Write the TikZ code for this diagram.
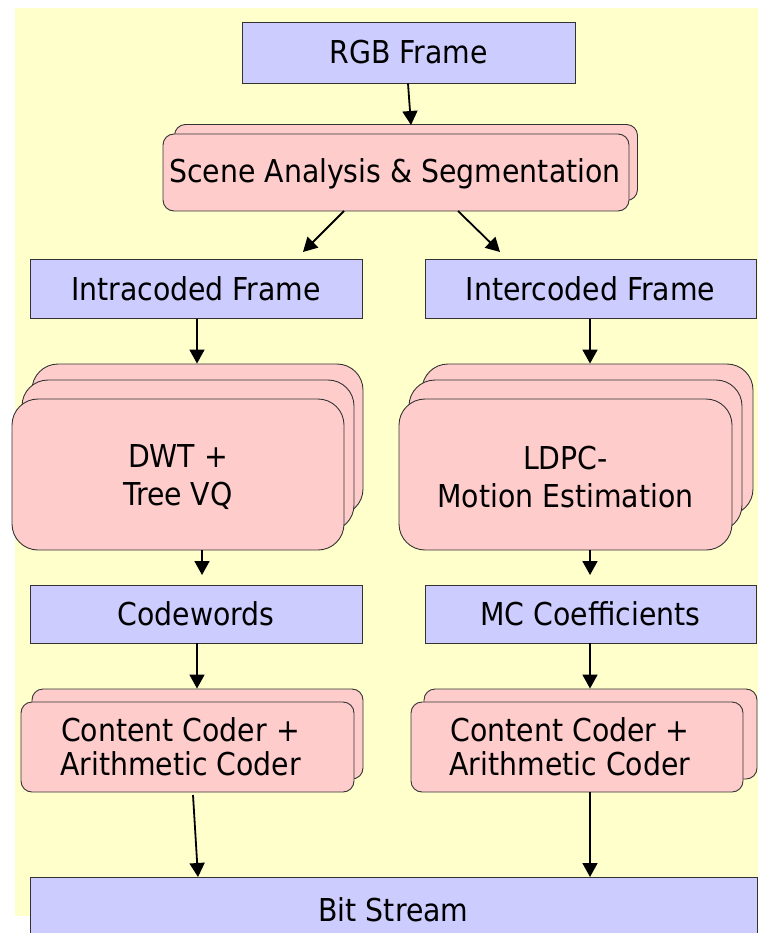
\documentclass[tikz,border=0pt]{standalone}
\usepackage{fontspec}
\setmainfont{DejaVu Sans Condensed}
\usetikzlibrary{arrows.meta}
\definecolor{bgyellow}{HTML}{FFFFCC}
\definecolor{boxblue}{HTML}{CCCCFF}
\definecolor{boxpink}{HTML}{FFCCCC}
\definecolor{edgegray}{HTML}{333333}
\tikzset{
  bluebox/.style={draw=edgegray, fill=boxblue, line width=0.9pt, inner sep=0pt,
    font=\fontsize{31.5}{36}\selectfont},
  pinkbox/.style={draw=edgegray, fill=boxpink, line width=0.9pt, inner sep=0pt, rounded corners=11pt},
  bigpink/.style={draw=edgegray, fill=boxpink, line width=0.9pt, inner sep=0pt, rounded corners=26pt},
  lbl/.style={font=\fontsize{31.5}{38.5}\selectfont, align=center, inner sep=0pt},
  lblsm/.style={font=\fontsize{31.5}{34}\selectfont, align=center, inner sep=0pt},
  arr/.style={draw=black, line width=1.8pt, -{Triangle[width=15pt,length=14pt]}}
}
\begin{document}
\begin{tikzpicture}[x=1pt, y=-1pt]
\useasboundingbox (0,0) rectangle (758,933);
\clip (0,0) rectangle (758,933);
\fill[bgyellow] (15,8) rectangle (758,916);

% RGB frame
\node[bluebox, minimum width=333pt, minimum height=61pt] (rgb) at (408.5,52.5) {RGB Frame};

% Scene analysis (stack of two)
\node[pinkbox, minimum width=463pt, minimum height=76pt] (sceneback) at (406,162.5) {};
\node[pinkbox, minimum width=466pt, minimum height=77pt] (scene) at (396,172.5) {};
\node[lblsm] (scenetxt) at (395,174) {Scene Analysis \& Segmentation};

% Intra/inter frames
\node[bluebox, minimum width=332pt, minimum height=59pt] (intra) at (196,288.5) {Intracoded Frame};
\node[bluebox, minimum width=331pt, minimum height=59pt] (inter) at (590.5,288.5) {Intercoded Frame};

% DWT stack
\node[bigpink, minimum width=331pt, minimum height=151pt] (dwtb) at (197.5,439.5) {};
\node[bigpink, minimum width=332pt, minimum height=151pt] (dwtm) at (188,455.5) {};
\node[bigpink, minimum width=332pt, minimum height=151pt] (dwt) at (178,474.5) {};
\node[lbl] (dwttxt) at (178,477) {DWT +\\Tree VQ};

% LDPC stack
\node[bigpink, minimum width=331pt, minimum height=151pt] (ldpcb) at (587.5,439.5) {};
\node[bigpink, minimum width=333pt, minimum height=151pt] (ldpcm) at (575.5,455.5) {};
\node[bigpink, minimum width=333pt, minimum height=151pt] (ldpc) at (565.5,474.5) {};
\node[lbl] (ldpctxt) at (565.5,477) {LDPC-\\Motion Estimation};

% Codewords / MC
\node[bluebox, minimum width=332pt, minimum height=58pt] (cw) at (196,614) {Codewords};
\node[bluebox, minimum width=331pt, minimum height=58pt] (mc) at (590.5,614) {MC Coefficients};

% Content coders
\node[pinkbox, minimum width=331pt, minimum height=90pt] (ccLb) at (197.5,734) {};
\node[pinkbox, minimum width=333pt, minimum height=90pt] (ccL) at (187.5,747) {};
\node[lblsm] (ccLtxt) at (180.5,747) {Content Coder +\\Arithmetic Coder};
\node[pinkbox, minimum width=333pt, minimum height=90pt] (ccRb) at (590.5,734) {};
\node[pinkbox, minimum width=332pt, minimum height=90pt] (ccR) at (577,747) {};
\node[lblsm] (ccRtxt) at (570,747) {Content Coder +\\Arithmetic Coder};

% Bit stream
\node[bluebox, minimum width=727pt, minimum height=70pt, anchor=north west] (bits) at (30,877) {};
\node[lblsm] (bitstxt) at (393.5,910) {Bit Stream};

% connectors
\coordinate (a1s) at (408,84);
\coordinate (a1e) at (411,125);
\draw[arr] (rgb.south -| a1s) -- (a1e);

\coordinate (l1s) at (344,211);
\coordinate (l1e) at (303,252);
\coordinate (r1s) at (458,211);
\coordinate (r1e) at (500,252);
\draw[arr] (l1s) -- (l1e);
\draw[arr] (r1s) -- (r1e);

\draw[arr] (197,318.5) -- (dwtb.north -| 197,0);
\draw[arr] (590,318.5) -- (ldpcb.north -| 590,0);

\coordinate (d1e) at (202,575);
\coordinate (d2e) at (590,575);
\draw[arr] (dwt.south -| d1e) -- (d1e);
\draw[arr] (ldpc.south -| d2e) -- (d2e);

\draw[arr] (cw.south -| 197,0) -- (ccLb.north -| 197,0);
\draw[arr] (mc.south -| 590,0) -- (ccRb.north -| 590,0);

\coordinate (b1s) at (193,795);
\coordinate (b1e) at (198,877);
\draw[arr] (b1s) -- (b1e);
\draw[arr] (ccR.south -| 590,0) -- (bits.north -| 590,0);
\end{tikzpicture}
\end{document}
